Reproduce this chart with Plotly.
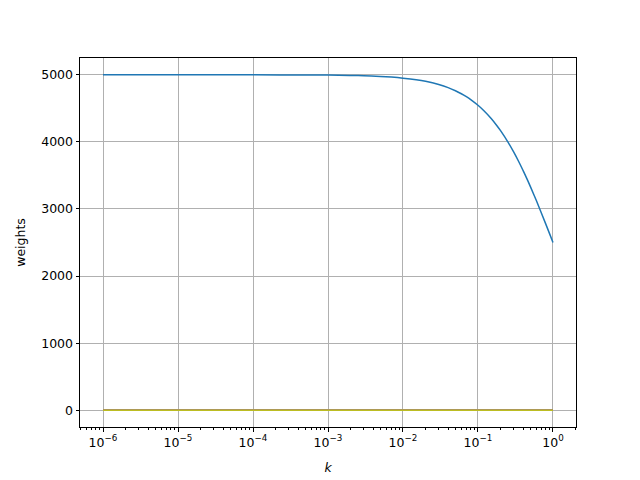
import plotly.graph_objects as go

k = [1e-6, 1e-5, 1e-4, 1e-3, 2e-3, 3e-3, 5e-3, 7e-3, 1e-2, 1.5e-2, 2e-2, 3e-2, 4e-2,
     5e-2, 6e-2, 7e-2, 8e-2, 0.1, 0.12, 0.15, 0.18, 0.2, 0.25, 0.3, 0.35, 0.4,
     0.45, 0.5, 0.6, 0.7, 0.8, 0.9, 1.0]
w_main = [5000, 5000, 4999.5, 4995, 4990, 4985, 4975, 4965, 4950, 4926, 4902, 4854,
          4808, 4762, 4717, 4673, 4630, 4545, 4464, 4348, 4237, 4167, 4000, 3846,
          3704, 3571, 3448, 3333, 3125, 2941, 2778, 2632, 2500]
w_small = [[0.0] * len(k) for _ in range(8)]

tick_vals = [1e-6, 1e-5, 1e-4, 1e-3, 1e-2, 1e-1, 1e0]
tick_text = ["10<sup>−6</sup>", "10<sup>−5</sup>", "10<sup>−4</sup>", "10<sup>−3</sup>",
             "10<sup>−2</sup>", "10<sup>−1</sup>", "10<sup>0</sup>"]
y_ticks = [0, 1000, 2000, 3000, 4000, 5000]

colors = ["#1f77b4", "#ff7f0e", "#2ca02c", "#d62728", "#9467bd",
          "#8c564b", "#e377c2", "#7f7f7f", "#bcbd22"]

fig = go.Figure()
fig.add_trace(go.Scatter(x=k, y=w_main, mode="lines", line_shape="spline",
                         line=dict(color=colors[0], width=1.5), showlegend=False))
for i, s in enumerate(w_small):
    fig.add_trace(go.Scatter(x=k, y=s, mode="lines",
                             line=dict(color=colors[i + 1], width=1.5), showlegend=False))

FS = 12.5
axis_common = dict(showline=True, linecolor="black", linewidth=1, mirror=True,
                   ticks="outside", ticklen=3.5, tickcolor="black", tickwidth=0.8,
                   showgrid=True, gridcolor="#b0b0b0", gridwidth=0.8, zeroline=False,
                   automargin=False,
                   tickfont=dict(family="DejaVu Sans", size=FS, color="black"))

fig.update_xaxes(type="log", range=[-6.307, 0.307], tickvals=tick_vals, ticktext=tick_text,
                 title=dict(text="<i>k</i>", font=dict(family="DejaVu Sans", size=FS, color="black"),
                            standoff=14),
                 minor=dict(ticks="outside", ticklen=2, tickcolor="black", tickwidth=0.6,
                            showgrid=False, dtick="D1"),
                 **axis_common)
fig.update_yaxes(range=[-250, 5250], tickvals=y_ticks,
                 title=dict(text="weights", font=dict(family="DejaVu Sans", size=FS, color="black"),
                            standoff=12),
                 **axis_common)

fig.update_layout(width=640, height=480, margin=dict(l=72, r=72, t=50, b=61),
                  plot_bgcolor="white", paper_bgcolor="white",
                  font=dict(family="DejaVu Sans", color="black"))

fig.write_html("out.html")
